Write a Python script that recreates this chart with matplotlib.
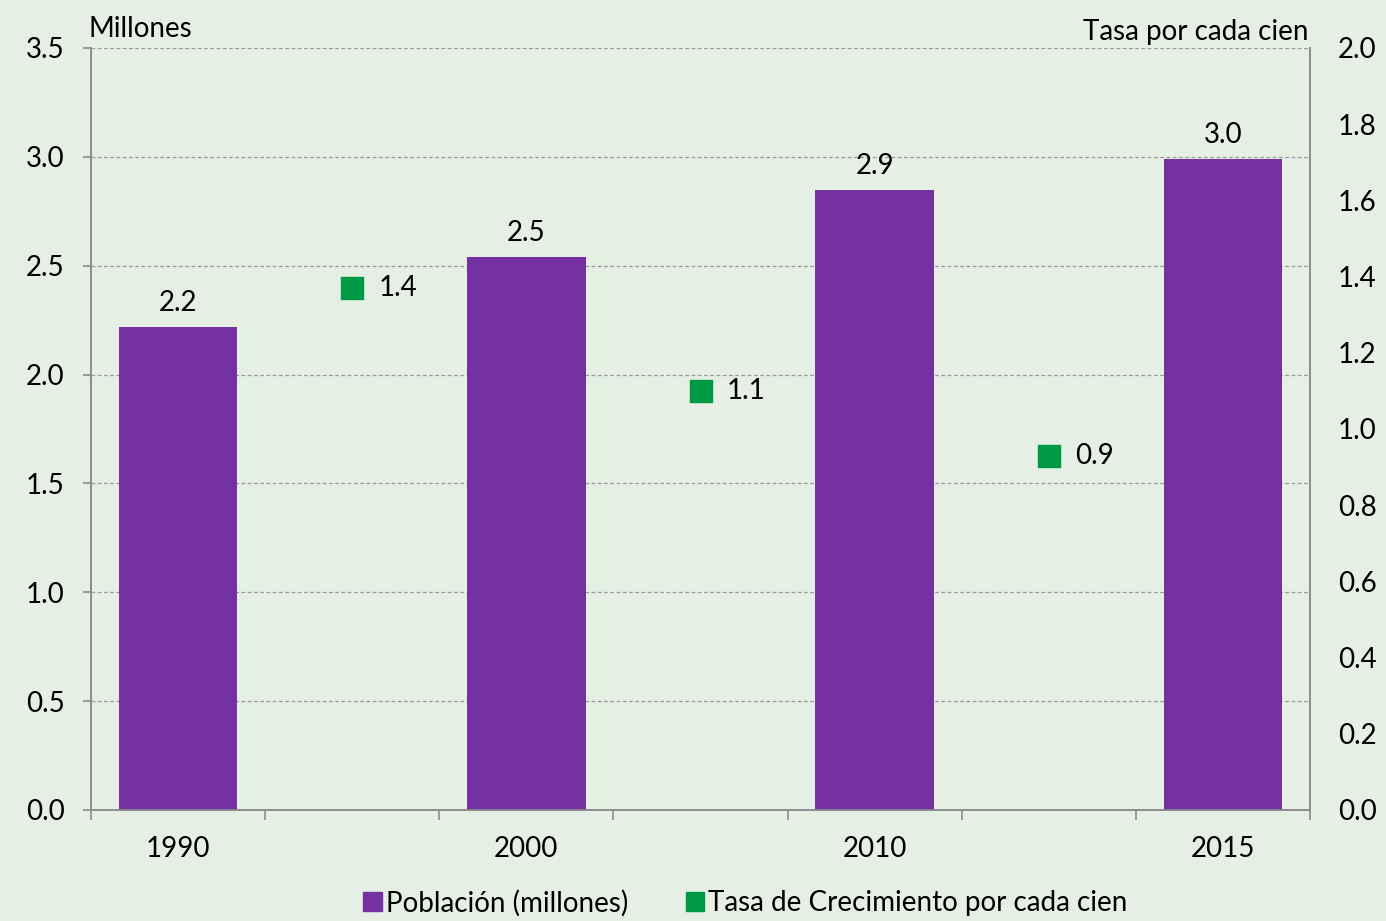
import matplotlib.pyplot as plt
from matplotlib.patches import Patch
import numpy as np

# Data
years = ["1990", "2000", "2010", "2015"]
poblacion = [2.22, 2.54, 2.85, 2.99]
poblacion_labels = ["2.2", "2.5", "2.9", "3.0"]
tasa = [1.37, 1.10, 0.93]
tasa_labels = ["1.4", "1.1", "0.9"]

BG = "#e5efe4"
PURPLE = "#7530a1"
GREEN = "#009a46"
GRAY = "#8c8c8c"
FS = 20

plt.rcParams['font.family'] = ['Lato', 'DejaVu Sans']

fig = plt.figure(figsize=(13.86, 9.21), dpi=100, facecolor=BG)
ax = fig.add_axes([91 / 1386, 1 - 810 / 921, (1310 - 91) / 1386, (810 - 48) / 921])
ax.set_facecolor(BG)
ax2 = ax.twinx()

# bars sit on every other slot, growth-rate markers in between
bar_x = np.arange(len(years)) * 2
rate_x = bar_x[:-1] + 1

ax.set_axisbelow(True)
ax.yaxis.grid(True, linestyle=(0, (3, 2)), color="#999999", linewidth=0.9)
ax.bar(bar_x, poblacion, width=0.68, color=PURPLE, zorder=3)
for x, v, lab in zip(bar_x, poblacion, poblacion_labels):
    ax.text(x, v + 0.05, lab, ha='center', va='bottom', fontsize=FS)

ax2.scatter(rate_x, tasa, marker='s', s=230, color=GREEN, zorder=4)
for x, v, lab in zip(rate_x, tasa, tasa_labels):
    ax2.text(x + 0.15, v, lab, ha='left', va='center', fontsize=FS)

ax.set_xlim(-0.5, 6.5)
ax.set_ylim(0, 3.5)
ax2.set_ylim(0, 2.0)
ax.set_yticks(np.arange(0, 3.51, 0.5))
ax.set_yticklabels([f"{t:.1f}" for t in np.arange(0, 3.51, 0.5)], fontsize=FS)
ax2.set_yticks(np.arange(0, 2.01, 0.2))
ax2.set_yticklabels([f"{t:.1f}" for t in np.arange(0, 2.01, 0.2)], fontsize=FS)

ax.set_xticks(np.arange(-0.5, 6.6, 1.0))
ax.set_xticklabels([])
ax.set_xticks(bar_x, minor=True)
ax.set_xticklabels(years, minor=True, fontsize=FS)
ax.tick_params(axis='x', which='major', length=7, color=GRAY, width=1.2)
ax.tick_params(axis='x', which='minor', length=0, pad=19)
ax.tick_params(axis='y', length=6, color=GRAY, width=1.2, pad=13)
ax2.tick_params(axis='y', length=0, pad=20)

for a in (ax, ax2):
    for side in ['left', 'right', 'bottom']:
        a.spines[side].set_color(GRAY)
        a.spines[side].set_linewidth(1.2)
    a.spines['top'].set_visible(False)

ax.text(-0.002, 1.008, "Millones", transform=ax.transAxes, ha='left', va='bottom',
        fontsize=FS)
ax.text(0.9985, 1.004, "Tasa por cada cien", transform=ax.transAxes, ha='right',
        va='bottom', fontsize=FS)

handles = [Patch(color=PURPLE), Patch(color=GREEN)]
labels = ["Población (millones)", "Tasa de Crecimiento por cada cien"]
fig.legend(handles, labels, loc='lower center', bbox_to_anchor=(0.538, -0.022),
           ncol=2, frameon=False, fontsize=FS, handlelength=0.65, handleheight=0.65,
           handletextpad=0.15, columnspacing=2.1)

plt.savefig("out.png", dpi=100, facecolor=BG)
